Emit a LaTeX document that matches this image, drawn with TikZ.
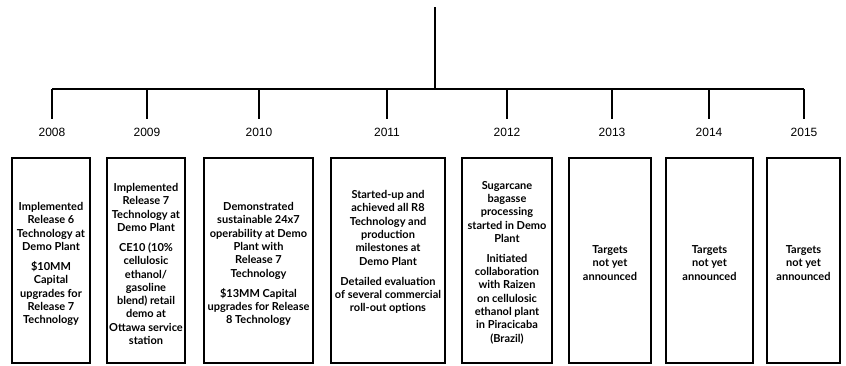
\documentclass[tikz,border=0pt]{standalone}
\usepackage{fontspec}
\newfontfamily\boxfont{Lato}
\newfontfamily\yearfont{Liberation Sans}
\begin{document}
\begin{tikzpicture}[x=1pt,y=-1pt,
  treeline/.style={line width=1.2pt},
  yearlabel/.style={font=\yearfont\fontsize{12}{14}\selectfont, inner sep=0pt},
  milestone/.style={draw, line width=1.6pt, minimum height=205pt, inner sep=0pt},
  note/.style={font=\boxfont\bfseries\fontsize{11}{13.3}\selectfont, align=center, inner sep=0pt}
]
\useasboundingbox (0,0) rectangle (846,365);

% trunk and crossbar
\coordinate (top) at (435,7);
\coordinate (hub) at (435,89);
\coordinate (barL) at (52,89);
\coordinate (barR) at (804,89);
\draw[treeline] (top) -- (hub);
\draw[treeline] (barL) -- (barR);

% year drops and labels
\foreach \yr/\x in {2008/52, 2009/147, 2010/259, 2011/387, 2012/507, 2013/612, 2014/709, 2015/804} {
  \coordinate (t\yr) at (\x,89);
  \coordinate (e\yr) at (\x,119);
  \draw[treeline] (t\yr) -- (e\yr);
  \node[yearlabel] (y\yr) at (\x,132) {\yr};
}

% milestone boxes
\node[milestone, minimum width=78pt]  (b2008) at (51,260.5) {};
\node[milestone, minimum width=78pt]  (b2009) at (146,260.5) {};
\node[milestone, minimum width=109pt] (b2010) at (258.5,260.5) {};
\node[milestone, minimum width=114pt] (b2011) at (388,260.5) {};
\node[milestone, minimum width=90pt]  (b2012) at (507,260.5) {};
\node[milestone, minimum width=82pt]  (b2013) at (610,260.5) {};
\node[milestone, minimum width=87pt]  (b2014) at (709.5,260.5) {};
\node[milestone, minimum width=73pt]  (b2015) at (803.5,260.5) {};

% milestone texts
\node[note] (n2008) at (51,264) {Implemented\\Release 6\\Technology at\\Demo Plant\\[6.7pt]\$10MM\\Capital\\upgrades for\\Release 7\\Technology};
\node[note] (n2009) at (146,264) {Implemented\\Release 7\\Technology at\\Demo Plant\\[6.7pt]CE10 (10\%\\cellulosic\\ethanol/\\gasoline\\blend) retail\\demo at\\Ottawa service\\station};
\node[note] (n2010) at (258.5,264) {Demonstrated\\sustainable 24x7\\operability at Demo\\Plant with\\Release 7\\Technology\\[6.7pt]\$13MM Capital\\upgrades for Release\\8 Technology};
\node[note] (n2011) at (388,252) {Started-up and\\achieved all R8\\Technology and\\production\\milestones at\\Demo Plant\\[6.7pt]Detailed evaluation\\of several commercial\\roll-out options};
\node[note] (n2012) at (507,262.5) {Sugarcane\\bagasse\\processing\\started in Demo\\Plant\\[6.7pt]Initiated\\collaboration\\with Raizen\\on cellulosic\\ethanol plant\\in Piracicaba\\(Brazil)};
\node[note] (n2013) at (610,263) {Targets\\not yet\\announced};
\node[note] (n2014) at (709.5,263) {Targets\\not yet\\announced};
\node[note] (n2015) at (803.5,263) {Targets\\not yet\\announced};
\end{tikzpicture}
\end{document}
